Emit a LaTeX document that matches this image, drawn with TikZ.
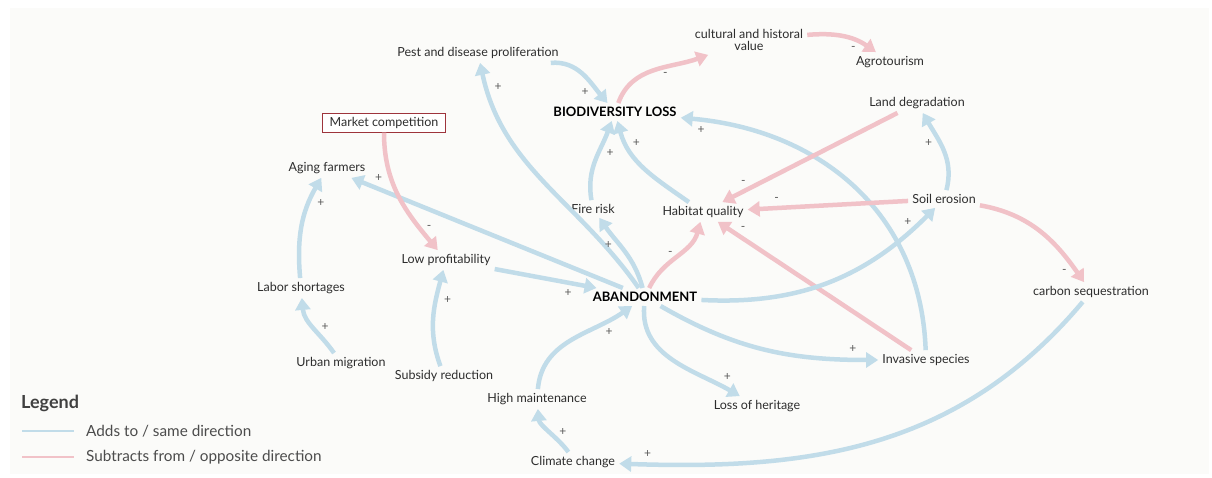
\documentclass[tikz,border=0pt]{standalone}
\usepackage{fontspec}
\setmainfont{Lato}
\usetikzlibrary{arrows.meta, positioning}
\definecolor{addblue}{RGB}{193,220,233}
\definecolor{subpink}{RGB}{241,194,200}
\definecolor{boxred}{RGB}{158,52,60}
\definecolor{inkgray}{RGB}{45,45,45}
\definecolor{panel}{RGB}{251,251,249}
\tikzstyle{arrow} = [
    line width=4.5pt,
    -{Triangle[length=12pt,width=15pt]}
]

\begin{document}
\begin{tikzpicture}[
    x=1pt, y=1pt,
    every node/.style={
        font=\fontsize{12.5}{14}\selectfont,
        text=inkgray,
        inner sep=4pt
    },
    core/.style={
        font=\fontsize{13}{14}\selectfont\bfseries,
        text=black
    },
    boxed/.style={
        draw=boxred,
        line width=1.1pt,
        fill=white,
        inner xsep=7pt,
        inner ysep=3.5pt
    },
    addlink/.style={arrow, draw=addblue},
    sublink/.style={arrow, draw=subpink},
    sgn/.style={
        font=\fontsize{12}{12}\selectfont,
        text=black!65,
        inner sep=1pt
    },
    legendtext/.style={
        font=\fontsize{15.3}{17}\selectfont,
        text=black!70,
        anchor=west
    }
]
\useasboundingbox (0,0) rectangle (1212,-478);
\fill[white] (0,0) rectangle (1212,-478);
\fill[panel] (10,-8) rectangle (1209,-474);

% Nodes
\node (pest) at (478,-53) {Pest and disease proliferation};
\node (cultural) [align=center] at (749,-40) {cultural and historal\\[-2pt]value};
\node (agro) at (890,-62) {Agrotourism};
\node (biodiv) [core] at (615,-112) {BIODIVERSITY LOSS};
\node (land) at (917,-103) {Land degradation};
\node (market) [boxed] at (384,-123) {Market competition};
\node (aging) at (327,-168) {Aging farmers};
\node (fire) at (593,-209) {Fire risk};
\node (habitat) at (703,-212) {Habitat quality};
\node (soil) at (944,-199) {Soil erosion};
\node (lowprofit) at (446,-260) {Low profitability};
\node (labor) at (301,-288) {Labor shortages};
\node (abandon) [core] at (645,-297) {ABANDONMENT};
\node (carbon) at (1091,-292) {carbon sequestration};
\node (urban) at (341,-363) {Urban migration};
\node (subsidy) at (444,-376) {Subsidy reduction};
\node (invasive) at (926,-360) {Invasive species};
\node (heritage) at (757,-406) {Loss of heritage};
\node (maint) at (537,-399) {High maintenance};
\node (climate) at (573,-462) {Climate change};

% Edges
\draw[addlink] (abandon) to[out=125, in=-78] node[sgn, pos=0.92, right=5pt] {+} (pest);
\draw[addlink] ([xshift=-12pt]pest.south east) to[out=5, in=130] node[sgn, pos=0.7, below left=1pt] {+} (biodiv);
\draw[sublink] (biodiv) to[out=70, in=-160] node[sgn, pos=0.55, below right=1pt] {-} (cultural);
\draw[sublink] (cultural) to[out=5, in=145] node[sgn, pos=0.75, below left=1pt] {-} (agro);
\draw[addlink] (fire) to[out=100, in=-110] node[sgn, pos=0.6, right=5pt] {+} (biodiv);
\draw[addlink] (habitat) to[out=145, in=-75] node[sgn, pos=0.8, right=4pt] {+} (biodiv);
\draw[addlink] (invasive) to[out=92, in=-5, looseness=1.05] node[sgn, pos=0.95, below=3pt] {+} (biodiv);
\draw[sublink] (land) -- node[sgn, pos=0.88, above=4pt] {-} (habitat);
\draw[sublink] (soil) -- node[sgn, pos=0.82, above=3pt] {-} (habitat);
\draw[sublink] (invasive) -- node[sgn, pos=0.87, above=5pt] {-} (habitat);
\draw[sublink] (abandon) to[out=65, in=-105] node[sgn, pos=0.55, left=4pt] {-} (habitat);
\draw[addlink] (abandon) to[out=105, in=-55] node[sgn, pos=0.6, left=5pt] {+} (fire);
\draw[addlink] (abandon) to[out=-3, in=-135] node[sgn, pos=0.93, left=6pt] {+} (soil);
\draw[addlink] (soil) to[out=75, in=-60] node[sgn, pos=0.6, left=5pt] {+} (land);
\draw[sublink] (soil) to[out=-10, in=125] node[sgn, pos=0.85, below left=2pt] {-} (carbon);
\draw[addlink] (carbon) to[out=-130, in=-2] node[sgn, pos=0.95, above=4pt] {+} (climate);
\draw[addlink] (climate.115) to[out=125, in=-85, looseness=0.8] node[sgn, pos=0.5, right=6pt] {+} (maint);
\draw[addlink] (maint) to[out=85, in=-145] node[sgn, pos=0.75, below right=2pt] {+} (abandon);
\draw[addlink] (lowprofit) -- node[sgn, pos=0.72, below=4pt] {+} (abandon);
\draw[addlink] (abandon) -- node[sgn, pos=0.9, above=4pt] {+} (aging);
\draw[sublink] (market) to[out=-90, in=130] node[sgn, pos=0.8, right=4pt] {-} (lowprofit);
\draw[addlink] (subsidy) to[out=110, in=-105] node[sgn, pos=0.7, right=5pt] {+} (lowprofit);
\draw[addlink] (labor) to[out=95, in=-120] node[sgn, pos=0.75, right=5pt] {+} (aging);
\draw[addlink] (urban) to[out=125, in=-85] node[sgn, pos=0.5, right=5pt] {+} (labor);
\draw[addlink] (abandon) to[out=-30, in=180] node[sgn, pos=0.9, above=4pt] {+} (invasive);
\draw[addlink] (abandon) to[out=-95, in=150] node[sgn, pos=0.85, above right=2pt] {+} (heritage);

% Legend
\node (legend) [font=\fontsize{18}{20}\selectfont\bfseries, text=black!75, anchor=west] at (17,-403) {Legend};
\coordinate (addA) at (22,-431);
\coordinate (addB) at (74,-431);
\coordinate (subA) at (22,-457);
\coordinate (subB) at (74,-457);
\draw[addblue, line width=1.3pt] (addA) -- (addB);
\draw[subpink, line width=1.3pt] (subA) -- (subB);
\node (addtext) [legendtext] at (82,-431) {Adds to / same direction};
\node (subtext) [legendtext] at (82,-457) {Subtracts from / opposite direction};

\end{tikzpicture}
\end{document}
